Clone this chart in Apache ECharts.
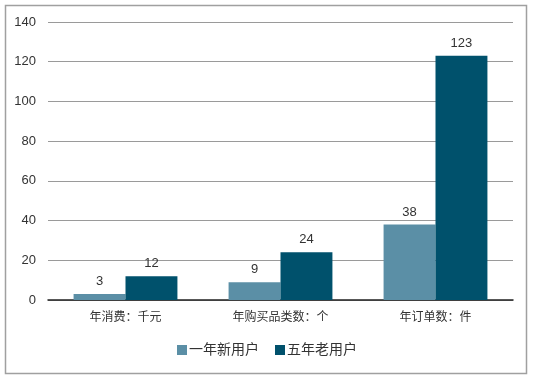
<!DOCTYPE html>
<html><head><meta charset="utf-8">
<script src="https://cdn.jsdelivr.net/npm/echarts@6/dist/echarts.min.js"></script>
<style>html,body{margin:0;padding:0;background:#fff}#c{width:534px;height:381px}</style>
</head><body><div id="c"></div>
<script>
const categories = ['年消费：千元', '年购买品类数：个', '年订单数：件'];
const newUsers = [3, 9, 38];
const oldUsers = [12, 24, 123];
const seriesNames = ['一年新用户', '五年老用户'];
const chart = echarts.init(document.getElementById('c'));
const font = '"Liberation Sans", "Noto Sans CJK SC", sans-serif';
chart.setOption({
  animation: false,
  textStyle: {fontFamily: font},
  graphic: [{type: 'rect', shape: {x: 5.5, y: 5.5, width: 521, height: 368}, style: {fill: 'none', stroke: '#a0a0a0', lineWidth: 1.5}, silent: true}],
  grid: {left: 48, right: 21, top: 22, bottom: 81},
  legend: {
    bottom: 19, left: 'center', itemWidth: 10, itemHeight: 10, itemGap: 16,
    icon: 'rect',
    textStyle: {fontSize: 14, color: '#333', fontFamily: font, padding: [0, 0, 0, -3]},
    data: seriesNames
  },
  xAxis: {
    type: 'category', data: categories,
    axisLine: {lineStyle: {color: '#222', width: 1.5}},
    axisTick: {show: false},
    axisLabel: {fontSize: 12, color: '#333', margin: 12}
  },
  yAxis: {
    type: 'value', min: 0, max: 140, interval: 20,
    axisLine: {show: false}, axisTick: {show: false},
    axisLabel: {fontSize: 13, color: '#333', margin: 12},
    splitLine: {lineStyle: {color: '#9a9a9a', width: 1}}
  },
  series: [
    {name: seriesNames[0], type: 'bar', data: newUsers, barGap: '0%', barCategoryGap: '33%',
     itemStyle: {color: '#5b8fa6'},
     label: {show: true, position: 'top', distance: 6, fontSize: 13, color: '#333'}},
    {name: seriesNames[1], type: 'bar', data: oldUsers,
     itemStyle: {color: '#00516c'},
     label: {show: true, position: 'top', distance: 6, fontSize: 13, color: '#333'}}
  ]
});
</script></body></html>
